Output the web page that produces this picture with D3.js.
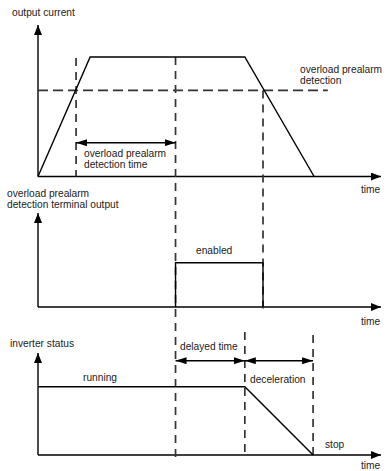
<!DOCTYPE html>
<html>
<head>
<meta charset="utf-8">
<script src="https://cdn.jsdelivr.net/npm/d3@7"></script>
<style>
body{margin:0;background:#fff;}
text{font-family:"Liberation Sans",Arial,sans-serif;font-size:10.2px;fill:#222;}
</style>
</head>
<body>
<svg id="chart" width="387" height="471"></svg>
<script>
// time axis in abstract units (0..100), levels normalised to 1
var currentT = [0, 15.2, 60.3, 80.5];
var currentV = [0, 1, 1, 0];
var prealarmLevel = 0.72;
var detectStart = 11.1;
var detectEnd = 40.1;
var outputOff = 65.6;
var pulseT = [40.1, 40.1, 65.6, 65.6];
var pulseV = [0, 1, 1, 0];
var statusT = [0, 60.3, 80.2];
var statusV = [1, 1, 0];
var decelStart = 60.3;
var decelEnd = 80.2;

var svg = d3.select("#chart");

// arrow heads
var defs = svg.append("defs");
defs.append("marker")
	.attr("id", "axisHead")
	.attr("markerUnits", "userSpaceOnUse")
	.attr("viewBox", "0 0 10 8")
	.attr("refX", 10).attr("refY", 4)
	.attr("markerWidth", 10).attr("markerHeight", 8)
	.attr("orient", "auto")
	.append("path").attr("d", "M0,0L10,4L0,8Z").attr("fill", "#000");
defs.append("marker")
	.attr("id", "dimHead")
	.attr("markerUnits", "userSpaceOnUse")
	.attr("viewBox", "0 0 11 7")
	.attr("refX", 11).attr("refY", 3.5)
	.attr("markerWidth", 11).attr("markerHeight", 7)
	.attr("orient", "auto-start-reverse")
	.append("path").attr("d", "M0,0L11,3.5L0,7Z").attr("fill", "#000");

var x = d3.scaleLinear().domain([0, 100]).range([38, 381]);
var y1 = d3.scaleLinear().domain([0, 1]).range([176.5, 57]);
var y2 = d3.scaleLinear().domain([0, 1]).range([307, 262.7]);
var y3 = d3.scaleLinear().domain([0, 1]).range([455, 386.7]);

// axes of the three panels
var panels = [
	{y: y1, top: 25},
	{y: y2, top: 213},
	{y: y3, top: 353}
];
panels.forEach(function(p){
	svg.append("line")
		.attr("x1", x(0)).attr("y1", p.y(0))
		.attr("x2", x(0)).attr("y2", p.top)
		.attr("stroke", "#000").attr("stroke-width", 1.4)
		.attr("marker-end", "url(#axisHead)");
	svg.append("line")
		.attr("x1", x(0)).attr("y1", p.y(0))
		.attr("x2", x(100)).attr("y2", p.y(0))
		.attr("stroke", "#000").attr("stroke-width", 1.4)
		.attr("marker-end", "url(#axisHead)");
});

// dashed guide lines
function dashed(x1, ya, x2, yb, dash){
	svg.append("line")
		.attr("x1", x1).attr("y1", ya)
		.attr("x2", x2).attr("y2", yb)
		.attr("stroke", "#333").attr("stroke-width", 1.7)
		.attr("stroke-dasharray", dash || "8,6");
}
dashed(x(0), y1(prealarmLevel), x(84.5), y1(prealarmLevel), "10,5");
dashed(x(detectStart), y1(1) + 1, x(detectStart), y1(0));
dashed(x(detectEnd), y1(1), x(detectEnd), 458);
dashed(x(outputOff), y1(prealarmLevel), x(outputOff), 310);
dashed(x(decelStart), 332, x(decelStart), 458);
dashed(x(decelEnd), 335, x(decelEnd), y3(0));

// curves
function curve(ts, vs, y){
	var pts = ts.map(function(t, i){ return [t, vs[i]]; });
	svg.append("path")
		.attr("d", d3.line()
			.x(function(d){ return x(d[0]); })
			.y(function(d){ return y(d[1]); })(pts))
		.attr("fill", "none")
		.attr("stroke", "#000")
		.attr("stroke-width", 1.4);
}
curve(currentT, currentV, y1);
curve(pulseT, pulseV, y2);
curve(statusT, statusV, y3);

// dimension arrows
function dim(t1, t2, yy){
	svg.append("line")
		.attr("x1", x(t1)).attr("y1", yy)
		.attr("x2", x(t2)).attr("y2", yy)
		.attr("stroke", "#000").attr("stroke-width", 1.4)
		.attr("marker-start", "url(#dimHead)")
		.attr("marker-end", "url(#dimHead)");
}
dim(detectStart, detectEnd, 142.7);
dim(detectEnd, decelStart, 360.7);
dim(decelStart, decelEnd, 360.7);

// labels
function label(txt, px, py){
	svg.append("text").attr("x", px).attr("y", py).text(txt);
}
label("output current", 12, 16);
label("overload prealarm", 300, 73);
label("detection", 300, 84);
label("overload prealarm", 84, 157);
label("detection time", 84, 168);
label("time", 361, 193);
label("overload prealarm", 7, 197);
label("detection terminal output", 7, 208);
label("enabled", 196, 254);
label("time", 361, 325);
label("inverter status", 10, 347);
label("delayed time", 180, 350);
label("running", 83, 381);
label("deceleration", 250, 383);
label("stop", 325, 448);
label("time", 361, 469);
</script>
</body>
</html>
